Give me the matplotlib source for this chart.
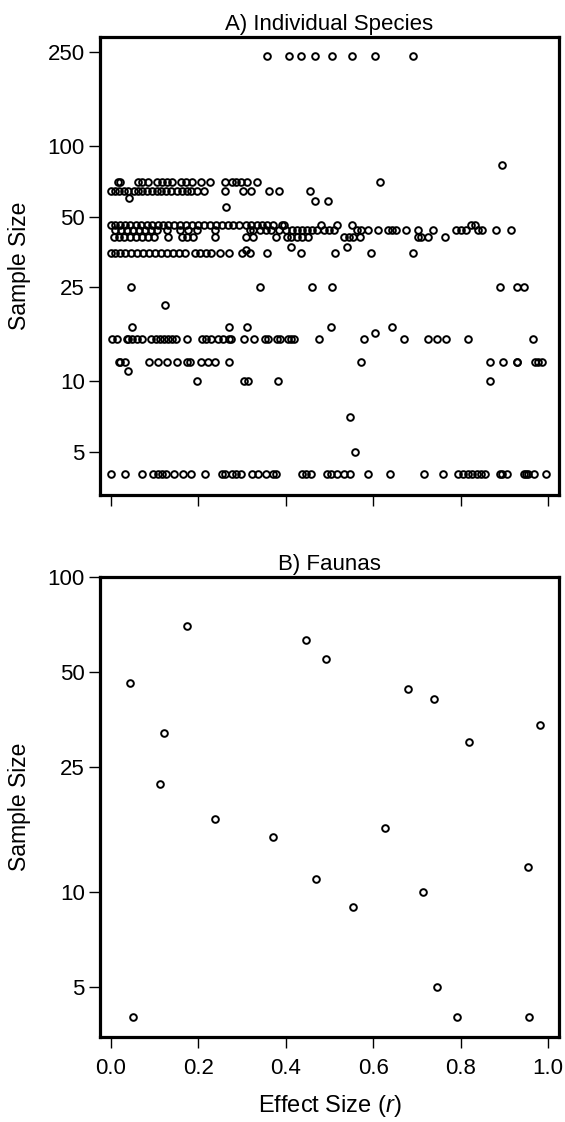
import numpy as np
import matplotlib
matplotlib.use("Agg")
import matplotlib.pyplot as plt
from matplotlib.ticker import FixedLocator, NullLocator

plt.rcParams['font.family'] = ['Liberation Sans', 'DejaVu Sans']
plt.rcParams['mathtext.fontset'] = 'custom'
plt.rcParams['mathtext.rm'] = 'Liberation Sans'
plt.rcParams['mathtext.it'] = 'Liberation Sans:italic'

# A) individual species: effect sizes grouped by sample size
r_240 = [0.358, 0.408, 0.435, 0.467, 0.505, 0.551, 0.605, 0.692]
r_83 = [0.894]
r_70 = [0.017, 0.021, 0.062, 0.071, 0.085, 0.105, 0.117, 0.128, 0.140, 0.160, 0.171,
        0.185, 0.205, 0.226, 0.262, 0.276, 0.287, 0.298, 0.312, 0.335, 0.615]
r_64 = [0.000, 0.009, 0.019, 0.029, 0.040, 0.052, 0.062, 0.072, 0.082, 0.093, 0.105,
        0.115, 0.125, 0.137, 0.152, 0.163, 0.173, 0.184, 0.196, 0.213, 0.260, 0.302,
        0.321, 0.362, 0.385, 0.455]
r_60 = [0.042]
r_58 = [0.466, 0.497]
r_55 = [0.264]
r_46 = [0.000, 0.010, 0.021, 0.033, 0.044, 0.058, 0.069, 0.083, 0.094, 0.108, 0.119,
        0.130, 0.144, 0.158, 0.171, 0.185, 0.199, 0.212, 0.226, 0.240, 0.253, 0.267,
        0.280, 0.294, 0.308, 0.321, 0.333, 0.346, 0.358, 0.371, 0.392, 0.396, 0.480,
        0.517, 0.551, 0.824, 0.833]
r_44 = [0.010, 0.024, 0.037, 0.051, 0.065, 0.078, 0.092, 0.105, 0.128, 0.158, 0.176,
        0.196, 0.237, 0.317, 0.326, 0.340, 0.355, 0.367, 0.385, 0.401, 0.415, 0.426,
        0.437, 0.449, 0.460, 0.471, 0.487, 0.499, 0.510, 0.562, 0.571, 0.587, 0.610,
        0.633, 0.642, 0.651, 0.674, 0.703, 0.737, 0.789, 0.801, 0.812, 0.840, 0.849,
        0.880, 0.915]
r_41 = [0.008, 0.019, 0.030, 0.044, 0.058, 0.071, 0.085, 0.099, 0.130, 0.162, 0.174,
        0.187, 0.237, 0.310, 0.324, 0.378, 0.403, 0.412, 0.426, 0.437, 0.451, 0.533,
        0.544, 0.553, 0.569, 0.703, 0.710, 0.726, 0.764]
r_37 = [0.412, 0.540]
r_36 = [0.310]
r_35 = [0.000, 0.010, 0.021, 0.033, 0.046, 0.060, 0.074, 0.087, 0.101, 0.115, 0.128,
        0.142, 0.155, 0.169, 0.192, 0.203, 0.217, 0.230, 0.249, 0.269, 0.299, 0.317,
        0.358, 0.435, 0.512, 0.594, 0.690]
r_25 = [0.046, 0.341, 0.461, 0.506, 0.889, 0.929, 0.944]
r_21 = [0.124]
r_17 = [0.049, 0.271, 0.312, 0.503, 0.643]
r_16 = [0.605]
r_15 = [0.003, 0.014, 0.036, 0.040, 0.048, 0.059, 0.071, 0.092, 0.103, 0.112, 0.122,
        0.131, 0.140, 0.148, 0.173, 0.208, 0.218, 0.228, 0.246, 0.256, 0.271, 0.275,
        0.305, 0.328, 0.352, 0.359, 0.381, 0.387, 0.404, 0.412, 0.418, 0.477, 0.580,
        0.671, 0.726, 0.746, 0.767, 0.817, 0.965]
r_12 = [0.018, 0.021, 0.033, 0.086, 0.108, 0.128, 0.150, 0.175, 0.180, 0.205, 0.221,
        0.237, 0.269, 0.573, 0.867, 0.898, 0.929, 0.930, 0.970, 0.976, 0.985]
r_11 = [0.039]
r_10 = [0.196, 0.304, 0.313, 0.383, 0.868]
r_7 = [0.548]
r_5 = [0.559]
r_4 = [0.000, 0.033, 0.072, 0.097, 0.108, 0.116, 0.127, 0.145, 0.165, 0.183, 0.216,
       0.254, 0.262, 0.277, 0.287, 0.298, 0.322, 0.336, 0.355, 0.370, 0.378, 0.438,
       0.446, 0.457, 0.495, 0.503, 0.517, 0.533, 0.548, 0.587, 0.639, 0.716, 0.760,
       0.794, 0.805, 0.817, 0.826, 0.837, 0.847, 0.855, 0.889, 0.894, 0.906, 0.946,
       0.949, 0.955, 0.968, 0.995]

species_rows = [(240, r_240), (83, r_83), (70, r_70), (64, r_64), (60, r_60),
                (58, r_58), (55, r_55), (46, r_46), (44, r_44), (41, r_41),
                (37, r_37), (36, r_36), (35, r_35), (25, r_25), (21, r_21),
                (17, r_17), (16, r_16), (15, r_15), (12, r_12), (11, r_11),
                (10, r_10), (7, r_7), (5, r_5), (4, r_4)]

# B) faunas
faunas_r = [0.044, 0.175, 0.121, 0.112, 0.238, 0.371, 0.446, 0.492, 0.470, 0.553, 0.627,
            0.680, 0.740, 0.818, 0.982, 0.713, 0.955, 0.747, 0.792, 0.956, 0.050]
faunas_n = [46, 70, 32, 22, 17, 15, 63, 55, 11, 9, 16, 44, 41, 30, 34, 10, 12, 5, 4, 4, 4]

yticks_a = [5, 10, 25, 50, 100, 250]
yticks_b = [5, 10, 25, 50, 100]
xticks = [0.0, 0.2, 0.4, 0.6, 0.8, 1.0]

marker_kw = dict(linestyle='none', marker='o', mfc='none', mec='black', ms=4.8, mew=1.4)


def style_axes(ax, yticks, ylim, title):
    ax.set_yscale('log')
    ax.set_ylim(*ylim)
    ax.set_xlim(-0.025, 1.025)
    ax.yaxis.set_major_locator(FixedLocator(yticks))
    ax.yaxis.set_minor_locator(NullLocator())
    ax.set_yticklabels([str(t) for t in yticks])
    ax.set_xticks(xticks)
    for s in ax.spines.values():
        s.set_linewidth(2.3)
    ax.tick_params(axis='both', direction='out', length=8, width=1.0, labelsize=16)
    ax.tick_params(axis='y', pad=3)
    ax.tick_params(axis='x', pad=7)
    ax.set_title(title, fontsize=16, pad=5)
    ax.set_ylabel('Sample Size', fontsize=16.5)
    ax.yaxis.set_label_coords(-0.15, 0.5)


fig = plt.figure(figsize=(5.65, 11.22), dpi=100)
ax_a = fig.add_axes([0.1770, 0.5588, 0.8124, 0.4082])
ax_b = fig.add_axes([0.1770, 0.0758, 0.8124, 0.4100])

for n, rs in species_rows:
    ax_a.plot(rs, [n] * len(rs), **marker_kw)
style_axes(ax_a, yticks_a, (3.27, 290), 'A) Individual Species')
ax_a.set_xticklabels([])

ax_b.plot(faunas_r, faunas_n, **marker_kw)
style_axes(ax_b, yticks_b, (3.47, 100), 'B) Faunas')
ax_b.set_xticklabels(['%.1f' % t for t in xticks])
ax_b.set_xlabel('Effect Size ($r$)', fontsize=17, labelpad=10)

fig.savefig('out.png', dpi=100)
